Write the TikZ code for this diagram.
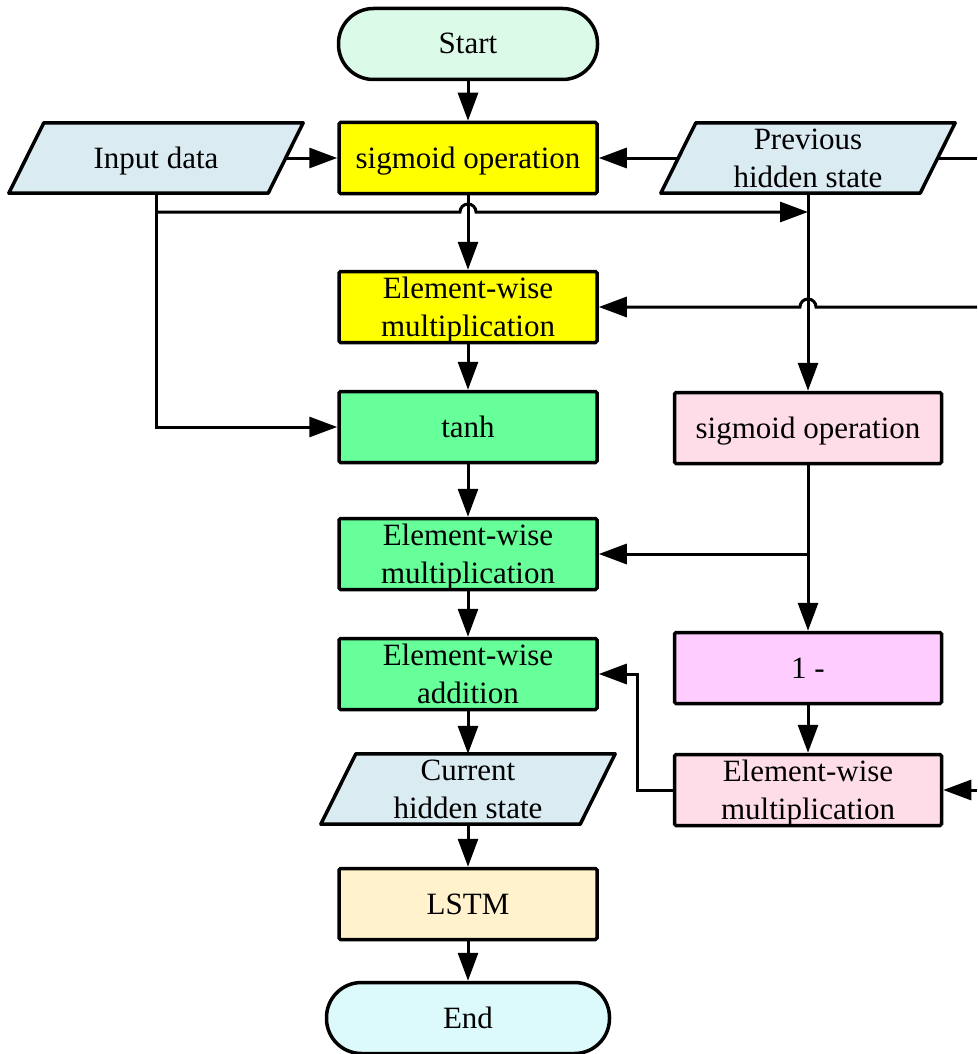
\documentclass[tikz,border=0pt]{standalone}
\usepackage{fontspec}
\setmainfont{Liberation Serif}
\usetikzlibrary{arrows.meta,calc,backgrounds}
\definecolor{startc}{RGB}{220,250,232}
\definecolor{parac}{RGB}{218,235,242}
\definecolor{yel}{RGB}{255,255,0}
\definecolor{grn}{RGB}{102,255,153}
\definecolor{pnk}{RGB}{255,221,232}
\definecolor{mag}{RGB}{255,204,255}
\definecolor{lstc}{RGB}{255,242,204}
\definecolor{endc}{RGB}{220,249,252}
% one-line and two-line labels, baselines set at fixed offsets from the node centre
\newcommand\lblone[1]{\raisebox{-10pt}[0pt][0pt]{#1}}
\newcommand\lbltwo[2]{\raisebox{-29pt}[0pt][0pt]{\begin{tabular}[b]{@{}c@{}}#1\\#2\end{tabular}}}
\begin{document}
\begin{tikzpicture}[x=1pt,y=-1pt,
  txt/.style={inner sep=0pt,align=center,font=\fontsize{31}{38}\selectfont},
  box/.style={txt,draw=black,line width=3.5pt,rounded corners=1.5pt,minimum width=258pt,minimum height=71pt},
  widebox/.style={box,minimum width=267pt},
  term/.style={txt,draw=black,line width=3.5pt,rounded corners=35pt,minimum height=71pt},
  paratext/.style={txt,minimum width=259pt,minimum height=70pt},
  parashape/.style={draw=black,fill=parac,line width=3.5pt,line join=round},
  conn/.style={line width=3pt,-{Triangle[length=28pt,width=20pt]}},
  plain/.style={line width=3pt}
]
\useasboundingbox (0,0) rectangle (977,1054);

% terminals and process boxes
\node[term,fill=startc,minimum width=259pt] (start) at (468,44) {\lblone{Start}};
\node[box,fill=yel] (sig) at (468,158) {\lblone{sigmoid operation}};
\node[box,fill=yel] (mul1) at (468,307) {\lbltwo{Element-wise}{multiplication}};
\node[box,fill=grn] (tanh) at (468,427) {\lblone{tanh}};
\node[widebox,fill=pnk] (sig2) at (808,428) {\lblone{sigmoid operation}};
\node[box,fill=grn] (mul2) at (468,554) {\lbltwo{Element-wise}{multiplication}};
\node[box,fill=grn] (add) at (468,674) {\lbltwo{Element-wise}{addition}};
\node[widebox,fill=mag] (one) at (808,668) {\lblone{1 -}};
\node[widebox,fill=pnk] (mul3) at (808,790) {\lbltwo{Element-wise}{multiplication}};
\node[box,fill=lstc] (lstm) at (468,904) {\lblone{LSTM}};
\node[term,fill=endc,minimum width=283pt] (end) at (468,1018) {\lblone{End}};

% data (parallelogram) nodes
\node[paratext] (inp) at (156,158) {\lblone{Input data}};
\node[paratext] (prev) at (808,158) {\lbltwo{Previous}{hidden state}};
\node[paratext] (cur) at (468,789) {\lbltwo{Current}{hidden state}};
\begin{scope}[on background layer]
  \foreach \n in {inp,prev,cur}{
    \draw[parashape] ($(\n.south west)+(-17.5,0)$) -- ($(\n.north west)+(17.5,0)$)
      -- ($(\n.north east)+(17.5,0)$) -- ($(\n.south east)+(-17.5,0)$) -- cycle;
  }
\end{scope}

% free ends at the right margin
\coordinate (rA) at (977,158);
\coordinate (rB) at (977,307);
\coordinate (rC) at (977,790);
\coordinate (jIn) at (156,212);

% main column
\draw[conn] (start) -- (sig);
\draw[conn] (inp.east) -- (sig.west);
\draw[conn] (prev.west) -- (sig.east);
\draw[plain] (prev.east) -- (rA);
\draw[conn] (sig.south) -- (mul1.north);
\draw[conn] (mul1) -- (tanh);
\draw[conn] (tanh) -- (mul2);
\draw[conn] (mul2) -- (add);
\draw[conn] (add) -- (cur.north);
\draw[conn] (cur.south) -- (lstm);
\draw[conn] (lstm) -- (end);

% input data branches
\draw[conn] (inp.south) -- (inp.south |- tanh.west) -- (tanh.west);
\draw[conn] (jIn) -- ($(sig.south |- jIn)+(-8,0)$)
  arc[start angle=180,end angle=0,radius=8pt] -- (prev.south |- jIn);

% previous hidden state column
\draw[conn] (prev.south) -- (sig2.north);
\draw[conn] (rB) -- ($(prev.south |- rB)+(8,0)$)
  arc[start angle=0,end angle=180,radius=8pt] -- (mul1.east);
\draw[conn] (sig2.south) -- (one.north);
\draw[conn] (sig2.south |- mul2.east) -- (mul2.east);
\draw[conn] (one) -- (mul3);
\draw[conn] (mul3.west) -| ($(add.east)+(39,0)$) -- (add.east);
\draw[conn] (rC) -- (mul3.east);
\end{tikzpicture}
\end{document}
